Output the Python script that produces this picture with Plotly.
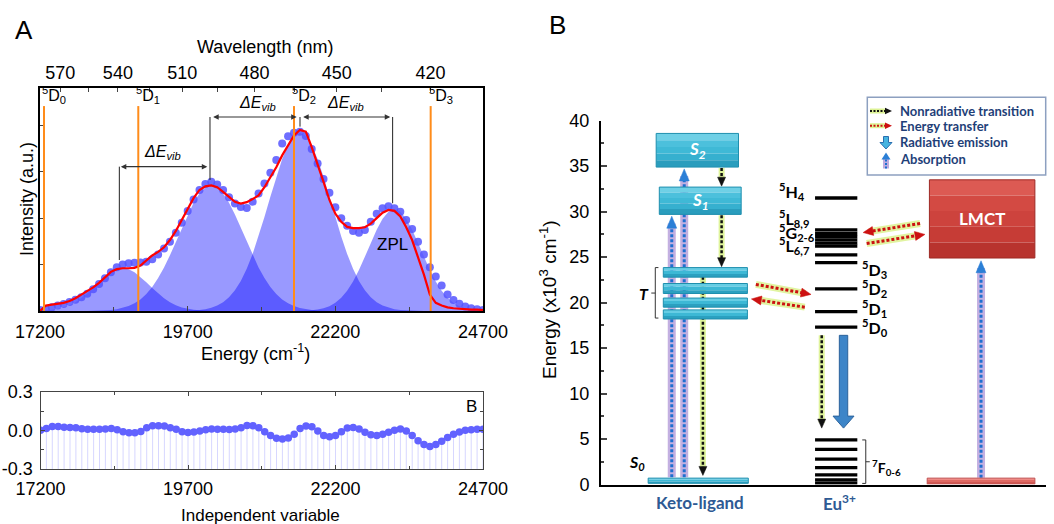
import plotly.graph_objects as go

W, H = 1054, 524

# ---------------- Panel A : emission spectrum and Gaussian decomposition ----------------
energy = list(range(17200, 24701, 100))  # cm^-1, 76 points

intensity = [0.005, 0.01, 0.02, 0.03, 0.038, 0.05, 0.062, 0.075, 0.095, 0.12,
             0.148, 0.18, 0.213, 0.24, 0.255, 0.262, 0.265, 0.266, 0.27, 0.285,
             0.31, 0.343, 0.38, 0.43, 0.485, 0.55, 0.612, 0.665, 0.698, 0.71,
             0.695, 0.665, 0.625, 0.59, 0.572, 0.566, 0.6, 0.645, 0.7, 0.76,
             0.83, 0.92, 0.96, 0.98, 0.985, 0.962, 0.89, 0.81, 0.725, 0.65,
             0.57, 0.51, 0.468, 0.44, 0.43, 0.445, 0.49, 0.535, 0.565, 0.575,
             0.565, 0.545, 0.5, 0.45, 0.38, 0.31, 0.24, 0.19, 0.14, 0.09,
             0.06, 0.04, 0.025, 0.015, 0.01, 0.005]

fit_total = [0.0, 0.03, 0.035, 0.04, 0.045, 0.055, 0.07, 0.09, 0.11, 0.13,
             0.155, 0.185, 0.215, 0.23, 0.235, 0.235, 0.237, 0.25, 0.28, 0.305,
             0.325, 0.35, 0.39, 0.44, 0.5, 0.56, 0.62, 0.665, 0.685, 0.69,
             0.68, 0.655, 0.625, 0.6, 0.59, 0.598, 0.615, 0.635, 0.68, 0.735,
             0.79, 0.855, 0.91, 0.965, 0.995, 0.985, 0.9, 0.81, 0.71, 0.61,
             0.535, 0.49, 0.462, 0.455, 0.455, 0.46, 0.48, 0.51, 0.54, 0.555,
             0.55, 0.52, 0.46, 0.39, 0.3, 0.2, 0.09, 0.045, 0.03, 0.02,
             0.015, 0.012, 0.01, 0.008, 0.008, 0.005]

# Gaussian components (values on energy[0:31], energy[8:51], energy[23:66], energy[43:76])
gauss_1 = [0.0019, 0.0036, 0.0067, 0.0118, 0.0199, 0.0318, 0.0484, 0.0701, 0.0966, 0.1268,
           0.1583, 0.1882, 0.2129, 0.2293, 0.235, 0.2293, 0.2129, 0.1882, 0.1583, 0.1268,
           0.0966, 0.0701, 0.0484, 0.0318, 0.0199, 0.0118, 0.0067, 0.0036, 0.0019, 0.0009, 0.0004]
gauss_2 = [0.0004, 0.0009, 0.0018, 0.0033, 0.0058, 0.0100, 0.0168, 0.0270, 0.0422, 0.0638,
           0.0934, 0.1321, 0.1809, 0.2396, 0.3070, 0.3806, 0.4565, 0.5296, 0.5946, 0.6458,
           0.6787, 0.69, 0.6787, 0.6458, 0.5946, 0.5296, 0.4565, 0.3806, 0.3070, 0.2396,
           0.1809, 0.1321, 0.0934, 0.0638, 0.0422, 0.0270, 0.0168, 0.0100, 0.0058, 0.0033,
           0.0018, 0.0009, 0.0004]
gauss_3 = [0.0004, 0.0008, 0.0016, 0.0031, 0.0057, 0.0103, 0.0179, 0.0299, 0.0484, 0.0755,
           0.1137, 0.1652, 0.2318, 0.3137, 0.4096, 0.5164, 0.6280, 0.7372, 0.8349, 0.9127,
           0.9627, 0.98, 0.9627, 0.9127, 0.8349, 0.7372, 0.6280, 0.5164, 0.4096, 0.3137,
           0.2318, 0.1652, 0.1137, 0.0755, 0.0484, 0.0299, 0.0179, 0.0103, 0.0057, 0.0031,
           0.0016, 0.0008, 0.0004]
gauss_4 = [0.0004, 0.0009, 0.0019, 0.0040, 0.0079, 0.0148, 0.0264, 0.0449, 0.0725, 0.1113,
           0.1625, 0.2256, 0.2979, 0.3739, 0.4462, 0.5062, 0.5460, 0.56, 0.5460, 0.5062,
           0.4462, 0.3739, 0.2979, 0.2256, 0.1625, 0.1113, 0.0725, 0.0449, 0.0264, 0.0148,
           0.0079, 0.0040, 0.0019]

residual = [0.0, 0.015, 0.03, 0.03, 0.025, 0.022, 0.02, 0.012, 0.008, 0.008,
            0.008, 0.01, 0.015, 0.005, -0.01, -0.018, -0.018, -0.008, 0.02, 0.035,
            0.036, 0.034, 0.02, 0.008, -0.01, -0.016, -0.012, -0.005, 0.005, 0.01,
            0.008, 0.008, 0.006, 0.01, 0.02, 0.038, 0.036, 0.02, -0.01, -0.04,
            -0.062, -0.068, -0.06, -0.03, 0.015, 0.034, 0.028, -0.005, -0.04, -0.05,
            -0.04, -0.01, 0.018, 0.022, 0.01, -0.015, -0.035, -0.04, -0.03, -0.015,
            0.0, 0.01, -0.005, -0.04, -0.08, -0.11, -0.126, -0.11, -0.085, -0.055,
            -0.03, -0.012, 0.0, 0.005, 0.008, 0.008]

wavelength_major = [570, 540, 510, 480, 450, 420]
wavelength_minor = [555, 525, 495, 465, 435]
d_level_energy = [17268, 18864, 21500, 23814]
d_level_sub = ["0", "1", "2", "3"]
vib_line_energy = [18543, 20078, 21602, 23170]
vib_line_bottom = [0.28, 0.72, 1.013, 0.592]
vib_line_top = [0.793, 1.066, 1.066, 1.066]
vib_arrow_from = [18543, 20107, 21630]
vib_arrow_to = [20033, 21546, 23130]
vib_arrow_level = [0.793, 1.066, 1.066]
vib_label_energy = [19282, 20874, 22364]

# ---------------- Panel B : energy level diagram (x10^3 cm^-1) ----------------
ligand_state_label = ["S<sub>2</sub>", "S<sub>1</sub>"]
ligand_state_low = [34.9, 29.7]
ligand_state_high = [38.6, 32.7]
ligand_state_left = [12.4, 13.1]
ligand_state_right = [30.9, 31.5]
triplet_low = [22.8, 21.0, 19.5, 18.2]
triplet_high = [23.85, 22.1, 20.5, 19.2]
triplet_span = [14.0, 32.9]
s0_level = [0.13, 0.7]
s0_span = [10.6, 33.1]
eu_excited = [31.5, 28.0, 27.6, 27.25, 26.9, 26.55, 26.2, 25.25, 24.4, 21.5, 19.0, 17.3]
eu_ground = [4.9, 3.87, 2.8, 1.85, 1.05, 0.5, 0.15]
eu_span = [48.1, 57.6]
lmct_level = [24.9, 33.5]
lmct_span = [73.8, 97.5]
lmct_ground = [0.05, 0.7]
lmct_ground_span = [73.3, 97.5]
absorption_arrows = [(15.9, 0.8, 29.5), (18.7, 0.8, 34.7), (85.4, 0.75, 24.6)]
nonrad_arrows = [(27.1, 34.8, 32.8), (27.1, 29.6, 23.95), (22.9, 23.4, 1.0), (49.6, 16.4, 6.2)]
transfer_arrows = [(34.8, 22.0, 47.2, 20.9), (45.8, 19.5, 33.8, 20.4),
                   (71.7, 28.7, 58.9, 27.7), (59.7, 26.5, 72.8, 27.5)]
emission_arrow = (54.5, 16.4, 6.2)
eu_left_labels = ["<sup>5</sup>H<sub>4</sub>", "<sup>5</sup>L<sub>8,9</sub>",
                  "<sup>5</sup>G<sub>2-6</sub>", "<sup>5</sup>L<sub>6,7</sub>"]
eu_left_label_y = [32.2, 29.3, 27.75, 26.25]
eu_right_labels = ["<sup>5</sup>D<sub>3</sub>", "<sup>5</sup>D<sub>2</sub>",
                   "<sup>5</sup>D<sub>1</sub>", "<sup>5</sup>D<sub>0</sub>"]
eu_right_label_y = [23.6, 21.6, 19.3, 17.3]

FA = "Liberation Sans, Arial, sans-serif"
FC = "Lato, Open Sans, sans-serif"
NAVY = "#1f3f78"


def pp(px, py):
    return px / W, 1 - py / H


fig = go.Figure()

# ---- Panel A traces ----
comp_sets = [(energy[0:31], gauss_1), (energy[8:51], gauss_2),
             (energy[23:66], gauss_3), (energy[43:76], gauss_4)]
for xs, ys in comp_sets:
    fig.add_trace(go.Scatter(x=xs, y=ys, mode="lines", fill="tozeroy",
                             fillcolor="rgba(0,0,255,0.4)", line=dict(width=0),
                             xaxis="x", yaxis="y", hoverinfo="skip", showlegend=False))
fig.add_trace(go.Scatter(x=energy, y=intensity, mode="markers",
                         marker=dict(size=8, color="rgba(85,85,255,0.85)", line=dict(width=0)),
                         xaxis="x", yaxis="y", showlegend=False))
fig.add_trace(go.Scatter(x=energy, y=fit_total, mode="lines", line=dict(color="#ff0000", width=2.2),
                         xaxis="x", yaxis="y", showlegend=False))
# wavelength axis carrier
fig.add_trace(go.Scatter(x=[energy[0], energy[-1]], y=[0, 0], mode="markers",
                         marker=dict(opacity=0), xaxis="x2", yaxis="y", showlegend=False,
                         hoverinfo="skip"))

# ---- Residual panel ----
stem_x, stem_y = [], []
for e, r in zip(energy, residual):
    stem_x += [e, e, None]
    stem_y += [-0.3, r, None]
fig.add_trace(go.Scatter(x=stem_x, y=stem_y, mode="lines",
                         line=dict(color="rgba(140,140,255,0.35)", width=1),
                         xaxis="x3", yaxis="y3", showlegend=False, hoverinfo="skip"))
fig.add_trace(go.Scatter(x=energy, y=residual, mode="markers",
                         marker=dict(size=7.5, color="#6262ff"),
                         xaxis="x3", yaxis="y3", showlegend=False))

# ---- Panel B : Eu levels as a trace ----
lx, ly = [], []
for lv in eu_excited + eu_ground:
    lx += [eu_span[0], eu_span[1], None]
    ly += [lv, lv, None]
fig.add_trace(go.Scatter(x=lx, y=ly, mode="lines", line=dict(color="black", width=3.3),
                         xaxis="x4", yaxis="y4", showlegend=False, hoverinfo="skip"))

shapes = []
ann = []

# ---- Panel A shapes ----
for e in d_level_energy:
    shapes.append(dict(type="line", xref="x", yref="y", x0=e, x1=e, y0=0, y1=1.126,
                       line=dict(color="#ff8c1a", width=2)))
for e, b, t in zip(vib_line_energy, vib_line_bottom, vib_line_top):
    shapes.append(dict(type="line", xref="x", yref="y", x0=e, x1=e, y0=b, y1=t,
                       line=dict(color="#222", width=1)))
for a, b, lv in zip(vib_arrow_from, vib_arrow_to, vib_arrow_level):
    ann.append(dict(x=b, y=lv, ax=a, ay=lv, xref="x", yref="y", axref="x", ayref="y",
                    text="", showarrow=True, arrowhead=2, arrowside="end+start",
                    arrowsize=1, arrowwidth=1.1, arrowcolor="#333"))
for e, lv in zip(vib_label_energy, vib_arrow_level):
    ann.append(dict(x=e, y=lv + 0.012, xref="x", yref="y", xanchor="center", yanchor="bottom",
                    text="<i>ΔE<sub>vib</sub></i>", showarrow=False,
                    font=dict(family=FA, size=16, color="black")))
for e, s in zip(d_level_energy, d_level_sub):
    ann.append(dict(x=e, y=1.185, xref="x", yref="y", xanchor="left", yanchor="middle",
                    xshift=-4, text="<sup>5</sup>D<sub>%s</sub>" % s, showarrow=False,
                    font=dict(family=FA, size=16, color="black")))
ann.append(dict(x=23160, y=0.363, xref="x", yref="y", xanchor="center", yanchor="middle",
                text="ZPL", showarrow=False, font=dict(family=FA, size=17, color="black")))

# ---- Panel B helper geometry ----
SX = 445 / 100.0   # px per x4 unit
SY = 363.8 / 40.0  # px per y4 unit


def head_pts(x0, y0, x1, y1, L, Wd):
    dx, dy = (x1 - x0) * SX, (y1 - y0) * SY
    n = (dx * dx + dy * dy) ** 0.5
    ux, uy = dx / n, dy / n
    qx, qy = -uy, ux
    tx, ty = x1 * SX, y1 * SY
    bx, by = tx - ux * L, ty - uy * L
    pts = [(tx, ty), (bx + qx * Wd / 2, by + qy * Wd / 2), (bx - qx * Wd / 2, by - qy * Wd / 2)]
    base = ((tx - ux * L * 0.6) / SX, (ty - uy * L * 0.6) / SY)
    path = "M " + " L ".join("%.4f,%.4f" % (X / SX, Y / SY) for X, Y in pts) + " Z"
    return path, base


def dotted_arrow(x0, y0, x1, y1, core, glow, head, core_w=3, glow_w=7, L=10, Wd=10):
    path, base = head_pts(x0, y0, x1, y1, L, Wd)
    shapes.append(dict(type="line", xref="x4", yref="y4", x0=x0, y0=y0, x1=base[0], y1=base[1],
                       line=dict(color=glow, width=glow_w)))
    shapes.append(dict(type="line", xref="x4", yref="y4", x0=x0, y0=y0, x1=base[0], y1=base[1],
                       line=dict(color=core, width=core_w, dash="3px,2px")))
    shapes.append(dict(type="path", xref="x4", yref="y4", path=path,
                       fillcolor=head, line=dict(color=head, width=0.5)))


def grad_rect(x0, x1, y0, y1, colors, edge):
    n = len(colors)
    for k, c in enumerate(colors):
        ya = y1 - (y1 - y0) * k / n
        yb = y1 - (y1 - y0) * (k + 1) / n
        shapes.append(dict(type="rect", xref="x4", yref="y4", x0=x0, x1=x1, y0=yb, y1=ya,
                           fillcolor=c, line=dict(width=0)))
    shapes.append(dict(type="rect", xref="x4", yref="y4", x0=x0, x1=x1, y0=y0, y1=y1,
                       fillcolor="rgba(0,0,0,0)", line=dict(color=edge, width=1)))


CYAN = ["#6fd0e6", "#4cc0dc", "#3fb9d6", "#36b0cf", "#2a9dbd"]
CYAN_THIN = ["#66cde4", "#3db8d5", "#2ba0c0"]
RED = ["#dc5a53", "#d34a43", "#cd433d", "#c63c36", "#b8332e"]

# absorption arrows (drawn beneath boxes)
for x, y0, y1 in absorption_arrows:
    dotted_arrow(x, y0, x, y1, "#1f6fd0", "rgba(175,150,215,0.75)", "#2b7fd6",
                 core_w=3, glow_w=8, L=12, Wd=10)
# nonradiative arrows
for x, y0, y1 in nonrad_arrows:
    dotted_arrow(x, y0, x, y1, "#111111", "rgba(215,240,130,0.8)", "#111111",
                 core_w=2.5, glow_w=6, L=9, Wd=8)

# ligand states
for lab, lo, hi, l, r in zip(ligand_state_label, ligand_state_low, ligand_state_high,
                             ligand_state_left, ligand_state_right):
    grad_rect(l, r, lo, hi, CYAN, "#1f8fae")
    ann.append(dict(x=(l + r) / 2, y=(lo + hi) / 2, xref="x4", yref="y4",
                    xanchor="center", yanchor="middle",
                    text="<b><i>%s</i></b>" % lab, showarrow=False,
                    font=dict(family=FC, size=17, color="white")))
for lo, hi in zip(triplet_low, triplet_high):
    grad_rect(triplet_span[0], triplet_span[1], lo, hi, CYAN_THIN, "#1f8fae")
grad_rect(s0_span[0], s0_span[1], s0_level[0], s0_level[1], CYAN_THIN, "#1f8fae")

# LMCT
grad_rect(lmct_span[0], lmct_span[1], lmct_level[0], lmct_level[1], RED, "#9e2a25")
grad_rect(lmct_ground_span[0], lmct_ground_span[1], lmct_ground[0], lmct_ground[1],
          ["#ef8a85", "#e06a64", "#d25a54"], "#c05050")
ann.append(dict(x=sum(lmct_span) / 2, y=sum(lmct_level) / 2, xref="x4", yref="y4",
                xanchor="center", yanchor="middle",
                text="<b>LMCT</b>", showarrow=False, font=dict(family=FC, size=17, color="white")))

# energy transfer arrows
for x0, y0, x1, y1 in transfer_arrows:
    dotted_arrow(x0, y0, x1, y1, "#cc1111", "rgba(215,240,130,0.75)", "#cc1111",
                 core_w=3, glow_w=7, L=10, Wd=9)

# radiative emission (block arrow)
ex, ey0, ey1 = emission_arrow
sw, hw, hl = 4.2 / SX, 10.5 / SX, 12 / SY
shapes.append(dict(type="path", xref="x4", yref="y4",
                   path="M %f,%f L %f,%f L %f,%f L %f,%f L %f,%f L %f,%f L %f,%f Z" % (
                       ex - sw, ey0, ex + sw, ey0, ex + sw, ey1 + hl, ex + hw, ey1 + hl,
                       ex, ey1, ex - hw, ey1 + hl, ex - sw, ey1 + hl),
                   fillcolor="#3d85c8", line=dict(color="#2b629c", width=1)))

# brackets
shapes.append(dict(type="path", xref="x4", yref="y4",
                   path="M 12.9,23.85 L 12.2,23.85 L 12.2,18.3 L 12.9,18.3 M 12.2,21.05 L 11.3,21.05",
                   line=dict(color="#333", width=1)))
shapes.append(dict(type="path", xref="x4", yref="y4",
                   path="M 58.7,4.9 L 59.5,4.9 L 59.5,0.12 L 58.7,0.12 M 59.5,2.5 L 60.4,2.5",
                   line=dict(color="#333", width=1)))
ann.append(dict(x=11.2, y=21.05, xref="x4", yref="y4", xanchor="right", yanchor="middle",
                text="<b><i>T</i></b>",
                showarrow=False, font=dict(family=FC, size=16, color="black")))
ann.append(dict(x=10.3, y=1.1, xref="x4", yref="y4", xanchor="right", yanchor="bottom",
                text="<b><i>S<sub>0</sub></i></b>", showarrow=False,
                font=dict(family=FC, size=16, color="black")))
ann.append(dict(x=60.4, y=1.85, xref="x4", yref="y4", xanchor="left", yanchor="middle",
                text="<b><sup>7</sup>F<sub>0-6</sub></b>", showarrow=False,
                font=dict(family=FC, size=14, color="black")))
for t, y in zip(eu_left_labels, eu_left_label_y):
    ann.append(dict(x=39.6, y=y, xref="x4", yref="y4", xanchor="left", yanchor="middle",
                    text="<b>%s</b>" % t,
                    showarrow=False, font=dict(family=FC, size=16, color="black")))
for t, y in zip(eu_right_labels, eu_right_label_y):
    ann.append(dict(x=58.2, y=y, xref="x4", yref="y4", xanchor="left", yanchor="middle",
                    text="<b>%s</b>" % t,
                    showarrow=False, font=dict(family=FC, size=16, color="black")))

# ---- legend box (paper) ----
def ppath(points, close=True):
    s = "M " + " L ".join("%.5f,%.5f" % pp(x, y) for x, y in points)
    return s + (" Z" if close else "")


x0p, y0p = pp(867.3, 97.3)
x1p, y1p = pp(1045.7, 175)
shapes.append(dict(type="rect", xref="paper", yref="paper", x0=x0p, x1=x1p, y0=y1p, y1=y0p,
                   fillcolor="white", line=dict(color="#8da0c0", width=1.5)))
legend_rows = [("Nonradiative transition", 111), ("Energy transfer", 125.7),
               ("Radiative emission", 142.3), ("Absorption", 159)]
for txt, py in legend_rows:
    xp, yp = pp(898, py)
    ann.append(dict(x=xp, y=yp, xref="paper", yref="paper", xanchor="left", yanchor="middle",
                    text="<b>%s</b>" % txt, showarrow=False,
                    font=dict(family=FC, size=13, color=NAVY)))
for py, core in [(111, "#111111"), (125.7, "#cc1111")]:
    a = pp(870, py); b = pp(886, py)
    shapes.append(dict(type="line", xref="paper", yref="paper", x0=a[0], y0=a[1], x1=b[0], y1=b[1],
                       line=dict(color="rgba(215,240,130,0.85)", width=5)))
    shapes.append(dict(type="line", xref="paper", yref="paper", x0=a[0], y0=a[1], x1=b[0], y1=b[1],
                       line=dict(color=core, width=2, dash="2px,1.5px")))
    shapes.append(dict(type="path", xref="paper", yref="paper",
                       path=ppath([(892, py), (885, py - 3.2), (885, py + 3.2)]),
                       fillcolor=core, line=dict(width=0)))
# radiative icon
shapes.append(dict(type="path", xref="paper", yref="paper",
                   path=ppath([(883.5, 136.5), (888.5, 136.5), (888.5, 142.5), (892, 142.5),
                               (886, 149), (880, 142.5), (883.5, 142.5)]),
                   fillcolor="#46b4e0", line=dict(color="#2a6fb0", width=1)))
# absorption icon
a = pp(886, 168.5); b = pp(886, 159)
shapes.append(dict(type="line", xref="paper", yref="paper", x0=a[0], y0=a[1], x1=b[0], y1=b[1],
                   line=dict(color="rgba(175,150,215,0.8)", width=6)))
shapes.append(dict(type="line", xref="paper", yref="paper", x0=a[0], y0=a[1], x1=b[0], y1=b[1],
                   line=dict(color="#1f6fd0", width=2, dash="2px,1.5px")))
shapes.append(dict(type="path", xref="paper", yref="paper",
                   path=ppath([(886, 152.5), (881.5, 159.5), (890.5, 159.5)]),
                   fillcolor="#2b7fd6", line=dict(width=0)))

# ---- free text ----
def text_px(px, py, t, size, family=FA, color="black", **kw):
    x, y = pp(px, py)
    d = dict(x=x, y=y, xref="paper", yref="paper", text=t, showarrow=False,
             xanchor="center", yanchor="middle",
             font=dict(family=family, size=size, color=color))
    d.update(kw)
    ann.append(d)


text_px(24, 30, "A", 26)
text_px(557, 25, "B", 26)
text_px(265, 47, "Wavelength (nm)", 18)
text_px(255, 352, "Energy (cm<sup>-1</sup>)", 18)
text_px(27, 199, "Intensity (a.u.)", 18, textangle=-90)
text_px(471, 406, "B", 17)
text_px(260, 515, "Independent variable", 17)
text_px(548, 300, "Energy (x10<sup>3</sup> cm<sup>-1</sup>)", 19, textangle=-90)
text_px(700, 502, "<b>Keto-ligand</b>", 17, family=FC, color="#2e5a94")
text_px(839, 502, "<b>Eu<sup>3+</sup></b>", 17, family=FC, color="#2e5a94")

# ---- axes ----
tickfont = dict(family=FA, size=18, color="black")
fig.update_layout(
    width=W, height=H, margin=dict(l=0, r=0, t=0, b=0, pad=0, autoexpand=False), autosize=False,
    paper_bgcolor="white", plot_bgcolor="rgba(0,0,0,0)", showlegend=False,
    xaxis=dict(domain=[40 / W, 483 / W], range=[17200, 24700], anchor="y", automargin=False,
               tickmode="linear", tick0=17200, dtick=2500, tickformat="d",
               ticks="inside", ticklen=5,
               minor=dict(ticks="inside", tick0=17200, dtick=1250, ticklen=4),
               showline=True, linecolor="black", linewidth=1.5, mirror=True,
               showgrid=False, zeroline=False, tickfont=tickfont, ticklabelstandoff=4),
    yaxis=dict(domain=[1 - 311 / H, 1 - 88 / H], range=[0, 223 / 182], anchor="x",
               automargin=False,
               showticklabels=False, ticks="inside", tick0=0, dtick=0.255, ticklen=4,
               showline=True, linecolor="black", linewidth=1.5, mirror=True,
               showgrid=False, zeroline=False),
    xaxis2=dict(overlaying="x", side="top", anchor="y", range=[17200, 24700], automargin=False,
                tickmode="array", tickvals=[1e7 / w for w in wavelength_major],
                ticktext=[str(w) for w in wavelength_major], ticks="inside", ticklen=4,
                minor=dict(tickmode="array", tickvals=[1e7 / w for w in wavelength_minor],
                           ticks="inside", ticklen=4),
                showline=False, showgrid=False, zeroline=False, tickfont=tickfont,
                ticklabelstandoff=4),
    xaxis3=dict(domain=[40.5 / W, 483 / W], range=[17200, 24700], anchor="y3", automargin=False,
                tickmode="linear", tick0=17200, dtick=2500, tickformat="d",
                ticks="inside", ticklen=4,
                minor=dict(ticks="inside", tick0=17200, dtick=1250, ticklen=3),
                showline=True, linecolor="#444", linewidth=1, mirror="ticks",
                showgrid=False, zeroline=False, tickfont=tickfont, ticklabelstandoff=3),
    yaxis3=dict(domain=[1 - 469 / H, 1 - 391.7 / H], range=[-0.3, 0.3], anchor="x3",
                automargin=False,
                tickmode="array", tickvals=[-0.3, 0, 0.3], ticktext=["-0.3", "0.0", "0.3"],
                ticks="inside", ticklen=4,
                minor=dict(tickmode="array", tickvals=[-0.15, 0.15], ticks="inside", ticklen=3),
                showline=True, linecolor="#444", linewidth=1, mirror="ticks",
                showgrid=False, zeroline=False, tickfont=tickfont, ticklabelstandoff=3),
    xaxis4=dict(domain=[601 / W, 1046 / W], range=[0, 100], anchor="y4", automargin=False,
                showticklabels=False, ticks="", showline=True, linecolor="black", linewidth=2,
                showgrid=False, zeroline=False),
    yaxis4=dict(domain=[1 - 484.5 / H, 1 - 120.7 / H], range=[0, 40], anchor="x4",
                automargin=False,
                tickmode="linear", tick0=0, dtick=5, ticks="inside", ticklen=6, tickwidth=1.5,
                minor=dict(ticks="inside", tick0=0, dtick=2.5, ticklen=3),
                showline=True, linecolor="black", linewidth=2, showgrid=False, zeroline=False,
                tickfont=tickfont, ticklabelstandoff=6),
    shapes=shapes, annotations=ann,
)

fig.write_html("out.html", config={"displayModeBar": False},
               post_script="document.body.style.margin='0px';document.body.style.overflow='hidden';")
